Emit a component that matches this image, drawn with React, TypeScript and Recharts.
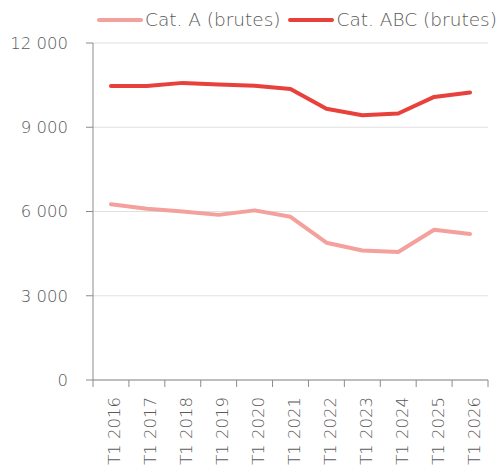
import React from 'react';
import { LineChart, Line, XAxis, YAxis, CartesianGrid, Legend } from 'recharts';

const categories = ['T1 2016', 'T1 2017', 'T1 2018', 'T1 2019', 'T1 2020', 'T1 2021', 'T1 2022', 'T1 2023', 'T1 2024', 'T1 2025', 'T1 2026'];
const catA = [6260, 6100, 6000, 5880, 6040, 5810, 4890, 4610, 4560, 5350, 5200];
const catABC = [10470, 10470, 10580, 10520, 10480, 10360, 9660, 9430, 9490, 10080, 10240];
const yTicks = [0, 3000, 6000, 9000, 12000];
const seriesNames = { a: 'Cat. A (brutes)', abc: 'Cat. ABC (brutes)' };

const data = categories.map((c, i) => ({ cat: c, a: catA[i], abc: catABC[i] }));

const W = 500;
const H = 466;
const M = { top: 43, right: 12, bottom: 0, left: 0 };
const Y_W = 93;
const X_H = 86;
const BAND = (W - M.left - M.right - Y_W) / categories.length;

const TEXT = '#595959';
const AXIS = '#8c8c8c';
const FONT = '"DejaVu Sans", sans-serif';
const WEIGHT = 200;
const PINK = '#f4a19d';
const RED = '#e8413c';

const fmt = (v: number) => String(v).replace(/\B(?=(\d{3})+(?!\d))/g, ' ');

const XTick = (props: any) => {
  const { x, y, payload, index } = props;
  const half = BAND / 2;
  const last = index === categories.length - 1;
  const ty = y + 17;
  return (
    <g>
      <line x1={x - half} x2={x - half} y1={y} y2={y + 7} stroke={AXIS} strokeWidth={1} />
      {last && <line x1={x + half} x2={x + half} y1={y} y2={y + 7} stroke={AXIS} strokeWidth={1} />}
      <text
        x={x + 4}
        y={ty}
        transform={`rotate(-90, ${x + 4}, ${ty})`}
        textAnchor="end"
        dominantBaseline="central"
        fill={TEXT}
        fontSize={16.5}
        fontFamily={FONT}
        fontWeight={WEIGHT}
      >
        {payload.value}
      </text>
    </g>
  );
};

const LegendContent = () => (
  <div style={{ display: 'flex', alignItems: 'center', fontFamily: FONT, fontWeight: WEIGHT, fontSize: 18.5, color: TEXT, whiteSpace: 'nowrap' }}>
    <span style={{ display: 'inline-block', width: 46, height: 4, background: PINK, borderRadius: 2, marginRight: 2 }} />
    <span>{seriesNames.a}</span>
    <span style={{ display: 'inline-block', width: 46, height: 4, background: RED, borderRadius: 2, marginLeft: 7, marginRight: 3 }} />
    <span>{seriesNames.abc}</span>
  </div>
);

export default function App() {
  return (
    <div style={{ position: 'absolute', left: 0, top: 0, width: W, height: H, background: '#fff' }}>
      <LineChart width={W} height={H} data={data} margin={M}>
        <CartesianGrid horizontal vertical={false} stroke="#e0e0e0" strokeWidth={1} />
        <XAxis
          dataKey="cat"
          height={X_H}
          interval={0}
          padding={{ left: BAND / 2, right: BAND / 2 }}
          tickLine={false}
          tickSize={0}
          tickMargin={0}
          axisLine={{ stroke: AXIS, strokeWidth: 1 }}
          tick={<XTick />}
        />
        <YAxis
          width={Y_W}
          domain={[0, 12000]}
          ticks={yTicks}
          interval={0}
          tickFormatter={fmt}
          tickSize={7}
          tickMargin={18}
          tickLine={{ stroke: AXIS, strokeWidth: 1 }}
          axisLine={{ stroke: AXIS, strokeWidth: 1 }}
          tick={{ fill: TEXT, fontSize: 16.5, fontFamily: FONT, fontWeight: WEIGHT }}
        />
        <Legend
          verticalAlign="middle"
          align="center"
          layout="horizontal"
          content={<LegendContent />}
          wrapperStyle={{ top: 9, left: 97, width: 'auto' }}
        />
        <Line type="linear" dataKey="a" name={seriesNames.a} stroke={PINK} strokeWidth={4} dot={false} isAnimationActive={false} strokeLinecap="round" strokeLinejoin="round" />
        <Line type="linear" dataKey="abc" name={seriesNames.abc} stroke={RED} strokeWidth={4} dot={false} isAnimationActive={false} strokeLinecap="round" strokeLinejoin="round" />
      </LineChart>
    </div>
  );
}
